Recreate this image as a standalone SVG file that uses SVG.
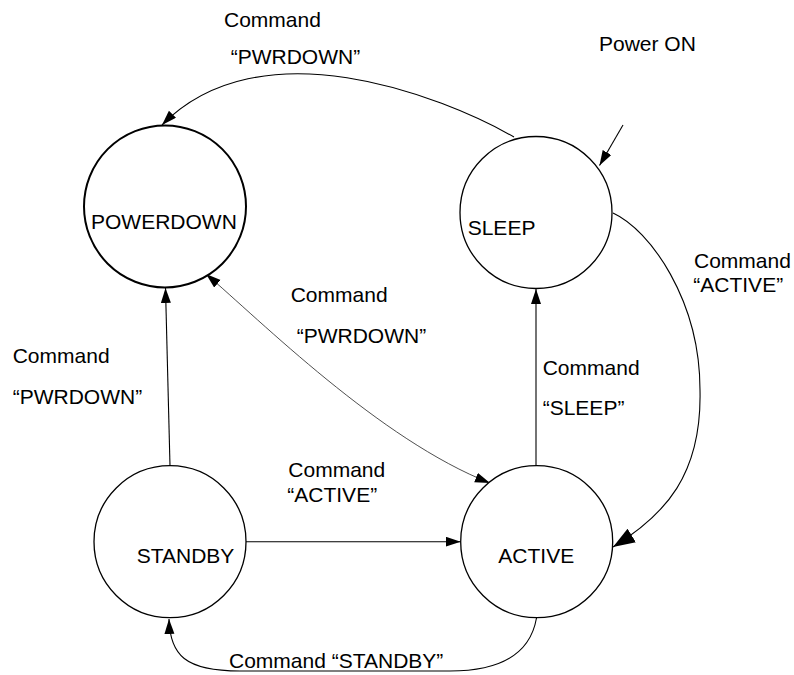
<svg xmlns="http://www.w3.org/2000/svg" width="794" height="675" viewBox="0 0 794 675">
<style>
.node{fill:#fff;stroke:#000;stroke-width:1.3}
.pd{stroke-width:2}
.lbl{font-family:"Liberation Sans",Arial,sans-serif;font-size:21px;fill:#000}
.edge{fill:none;stroke:#000;stroke-width:1.1}
.thin{stroke-width:0.8;stroke:#222}
</style>
<defs>
<marker id="arr" markerUnits="userSpaceOnUse" markerWidth="16" markerHeight="12" refX="15" refY="5" orient="auto-start-reverse">
<path d="M0,0 L15,5 L0,10 z" fill="#000"/>
</marker>
<marker id="arrBig" markerUnits="userSpaceOnUse" markerWidth="24" markerHeight="18" refX="22" refY="8" orient="auto">
<path d="M0,0 L22,8 L0,16 z" fill="#000"/>
</marker>
</defs>
<g id="connectors">
<path class="edge" d="M514,137 C440,95 260,25 162,125" marker-end="url(#arr)"/>
<path class="edge" d="M623,125 L599.5,165.5" marker-end="url(#arr)"/>
<path class="edge" d="M613,213 C650,230 700,300 700,390 C702,475 665,515 613,547" marker-end="url(#arrBig)"/>
<path class="edge thin" d="M206,274 C260,320 380,440 490,483" marker-start="url(#arr)" marker-end="url(#arr)"/>
<path class="edge" d="M170,466 L165.5,288" marker-end="url(#arr)"/>
<path class="edge" d="M536,466 L536,289" marker-end="url(#arr)"/>
<path class="edge" d="M246,541.7 L460.7,541.7" marker-end="url(#arr)"/>
<path class="edge" d="M536.5,618 C530,655 500,671 450,671 L240,671 C185,671 170,655 169,619" marker-end="url(#arr)"/>
</g>
<g id="POWERDOWN">
<circle class="node pd" cx="165" cy="206.4" r="81"/>
<text class="lbl" x="91" y="229.3">POWERDOWN</text>
</g>
<g id="SLEEP">
<circle class="node" cx="536" cy="212.5" r="76"/>
<text class="lbl" x="467.7" y="235">SLEEP</text>
</g>
<g id="STANDBY">
<circle class="node" cx="170" cy="541.7" r="76"/>
<text class="lbl" x="136.7" y="563.3">STANDBY</text>
</g>
<g id="ACTIVE">
<circle class="node" cx="536.7" cy="541.7" r="76"/>
<text class="lbl" x="498.3" y="563.3">ACTIVE</text>
</g>
<g id="labels">
<text class="lbl" x="224" y="26.7">Command</text>
<text class="lbl" x="230.7" y="64">“PWRDOWN”</text>
<text class="lbl" x="599" y="51">Power ON</text>
<text class="lbl" x="694" y="268">Command</text>
<text class="lbl" x="693.3" y="291.7">“ACTIVE”</text>
<text class="lbl" x="290.7" y="301.7">Command</text>
<text class="lbl" x="296.7" y="342.7">“PWRDOWN”</text>
<text class="lbl" x="12.7" y="363.3">Command</text>
<text class="lbl" x="12.7" y="404">“PWRDOWN”</text>
<text class="lbl" x="542.7" y="375">Command</text>
<text class="lbl" x="542.7" y="415">“SLEEP”</text>
<text class="lbl" x="288.3" y="477.3">Command</text>
<text class="lbl" x="287.3" y="501.7">“ACTIVE”</text>
<text class="lbl" x="229" y="667.7">Command “STANDBY”</text>
</g>
</svg>
